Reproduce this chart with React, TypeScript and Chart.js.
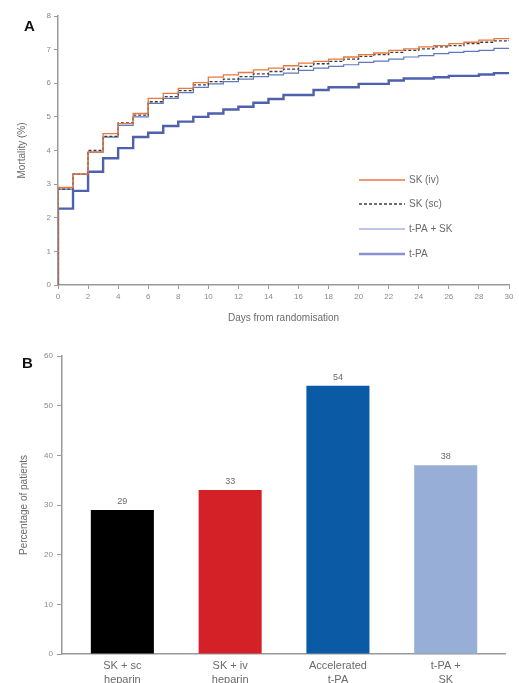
import React, { useEffect, useRef } from "react";
import { Chart, registerables } from "chart.js";

Chart.register(...registerables);

const FONT = "'Liberation Sans', Arial, sans-serif";

// ---- Panel A: cumulative mortality (step curves) ----
const days = [0, 0, 1, 2, 3, 4, 5, 6, 7, 8, 9, 10, 11, 12, 13, 14, 15, 16, 17, 18, 19, 20, 21, 22, 23, 24, 25, 26, 27, 28, 29, 30];

const skIv = [0, 2.9, 3.3, 3.95, 4.5, 4.8, 5.1, 5.55, 5.7, 5.85, 6.02, 6.18, 6.25, 6.32, 6.4, 6.45, 6.52, 6.6, 6.65, 6.72, 6.78, 6.85, 6.9, 6.98, 7.02, 7.08, 7.12, 7.18, 7.22, 7.28, 7.33, 7.35];
const skSc = [0, 2.85, 3.3, 4.0, 4.42, 4.82, 5.05, 5.45, 5.6, 5.78, 5.95, 6.05, 6.12, 6.2, 6.28, 6.35, 6.42, 6.5, 6.58, 6.65, 6.72, 6.8, 6.85, 6.92, 6.98, 7.02, 7.08, 7.12, 7.18, 7.22, 7.26, 7.28];
const tpaSk = [0, 2.85, 3.3, 3.95, 4.4, 4.75, 5.0, 5.4, 5.55, 5.72, 5.88, 5.98, 6.05, 6.12, 6.2, 6.25, 6.3, 6.38, 6.45, 6.5, 6.55, 6.62, 6.66, 6.72, 6.78, 6.82, 6.88, 6.92, 6.95, 6.98, 7.04, 7.05];
const tpa = [0, 2.27, 2.8, 3.37, 3.77, 4.07, 4.4, 4.53, 4.73, 4.86, 5.0, 5.1, 5.22, 5.3, 5.42, 5.53, 5.65, 5.65, 5.8, 5.88, 5.88, 5.98, 5.98, 6.08, 6.14, 6.14, 6.18, 6.22, 6.22, 6.26, 6.3, 6.3];

const seriesLabels = ["SK (iv)", "SK (sc)", "t-PA + SK", "t-PA"];

// ---- Panel B: bar chart ----
const barCategories = [["SK + sc", "heparin"], ["SK + iv", "heparin"], ["Accelerated", "t-PA"], ["t-PA +", "SK"]];
const barValues = [29, 33, 54, 38];
const barColors = ["#000000", "#d42128", "#0a5aa5", "#97aed7"];

const AXIS = "#9a9a9a";
const TICK = "#8a8a8a";

function toPoints(vals: number[]) {
  return days.map((d, i) => ({ x: d, y: vals[i] }));
}

const legendPlugin = {
  id: "insideLegend",
  afterDatasetsDraw(chart: any) {
    const ctx = chart.ctx;
    const ds = chart.data.datasets;
    const ys = [180, 204, 229, 254];
    ctx.save();
    ds.forEach((d: any, i: number) => {
      const y = ys[i];
      ctx.beginPath();
      ctx.strokeStyle = d.legendColor || d.borderColor;
      ctx.lineWidth = d.borderWidth;
      ctx.setLineDash(d.borderDash || []);
      ctx.moveTo(359, y);
      ctx.lineTo(405, y);
      ctx.stroke();
      ctx.setLineDash([]);
      ctx.fillStyle = "#6a6a6a";
      ctx.font = `10px ${FONT}`;
      ctx.textBaseline = "middle";
      ctx.textAlign = "left";
      ctx.fillText(d.label, 409, y);
    });
    ctx.restore();
  },
};

const barLabelPlugin = {
  id: "barLabels",
  afterDatasetsDraw(chart: any) {
    const ctx = chart.ctx;
    const meta = chart.getDatasetMeta(0);
    ctx.save();
    ctx.fillStyle = "#6a6a6a";
    ctx.font = `9px ${FONT}`;
    ctx.textAlign = "center";
    ctx.textBaseline = "bottom";
    meta.data.forEach((el: any, i: number) => {
      ctx.fillText(String(barValues[i]), el.x, el.y - 4);
    });
    ctx.restore();
  },
};

export default function App() {
  const refA = useRef<HTMLCanvasElement>(null);
  const refB = useRef<HTMLCanvasElement>(null);

  useEffect(() => {
    const chartA = new Chart(refA.current!, {
      type: "line",
      data: {
        datasets: [
          { label: seriesLabels[0], data: toPoints(skIv), borderColor: "#e5793f", borderWidth: 1.3, stepped: true, pointRadius: 0 } as any,
          { label: seriesLabels[1], data: toPoints(skSc), borderColor: "#3c3c3c", borderWidth: 1.3, borderDash: [3, 2], stepped: true, pointRadius: 0 } as any,
          { label: seriesLabels[2], data: toPoints(tpaSk), borderColor: "#5f78c0", legendColor: "#7d8fcc", borderWidth: 1.2, stepped: true, pointRadius: 0 } as any,
          { label: seriesLabels[3], data: toPoints(tpa), borderColor: "#4f60ad", legendColor: "#8a90d0", borderWidth: 2.4, stepped: true, pointRadius: 0 } as any,
        ],
      },
      options: {
        responsive: false,
        animation: false,
        layout: { padding: { top: 16, right: 10, left: 0, bottom: 0 } },
        plugins: { legend: { display: false }, tooltip: { enabled: false } },
        scales: {
          x: {
            type: "linear",
            min: 0,
            max: 30,
            afterFit: (s: any) => { s.height = 55; },
            ticks: { stepSize: 2, color: TICK, font: { family: FONT, size: 8 }, padding: 3, maxRotation: 0 },
            grid: { display: true, drawOnChartArea: false, drawTicks: true, tickLength: 4, color: AXIS, lineWidth: 1 },
            border: { display: true, color: AXIS, width: 1.5 },
            title: { display: true, text: "Days from randomisation", color: "#6a6a6a", font: { family: FONT, size: 10 }, padding: { top: 2, bottom: 16 } },
          },
          y: {
            min: 0,
            max: 8,
            afterFit: (s: any) => { s.width = 58; },
            ticks: { stepSize: 1, color: TICK, font: { family: FONT, size: 8 }, padding: 3 },
            grid: { display: true, drawOnChartArea: false, drawTicks: true, tickLength: 4, color: AXIS, lineWidth: 1 },
            border: { display: true, color: AXIS, width: 1.5 },
            title: { display: true, text: "Mortality (%)", color: "#6a6a6a", font: { family: FONT, size: 10 }, padding: { top: 16, bottom: 0 } },
          },
        },
      } as any,
      plugins: [legendPlugin],
    });

    const chartB = new Chart(refB.current!, {
      type: "bar",
      data: {
        labels: barCategories as any,
        datasets: [
          { data: barValues, backgroundColor: barColors, borderWidth: 0, barPercentage: 0.585, categoryPercentage: 1 },
        ],
      },
      options: {
        responsive: false,
        animation: false,
        layout: { padding: { top: 16, right: 14, left: 0, bottom: 0 } },
        plugins: { legend: { display: false }, tooltip: { enabled: false } },
        scales: {
          x: {
            afterFit: (s: any) => { s.height = 29; },
            afterBuildTicks: (s: any) => {
              // wider outer margins than a plain half-category offset
              s._startValue = -0.56;
              s._valueRange = 4.11;
            },
            ticks: { color: "#6a6a6a", font: { family: FONT, size: 11, lineHeight: 1.25 }, padding: 5, maxRotation: 0, autoSkip: false },
            grid: { display: true, drawOnChartArea: false, drawTicks: false, color: AXIS },
            border: { display: true, color: AXIS, width: 1.5 },
          },
          y: {
            min: 0,
            max: 60,
            afterFit: (s: any) => { s.width = 62; },
            ticks: { stepSize: 10, color: TICK, font: { family: FONT, size: 8 }, padding: 4 },
            grid: { display: true, drawOnChartArea: false, drawTicks: true, tickLength: 5, color: AXIS, lineWidth: 1 },
            border: { display: true, color: AXIS, width: 1.5 },
            title: { display: true, text: "Percentage of patients", color: "#6a6a6a", font: { family: FONT, size: 10 }, padding: { top: 18, bottom: 0 } },
          },
        },
      } as any,
      plugins: [barLabelPlugin],
    });

    return () => {
      chartA.destroy();
      chartB.destroy();
    };
  }, []);

  const letter: React.CSSProperties = {
    position: "absolute",
    fontFamily: FONT,
    fontWeight: "bold",
    fontSize: 15,
    color: "#111",
    lineHeight: "15px",
  };

  return (
    <div style={{ position: "absolute", left: 0, top: 0, width: 519, height: 683, overflow: "hidden", background: "#fff" }}>
      <canvas ref={refA} width={519} height={340} style={{ position: "absolute", left: 0, top: 0, width: 519, height: 340 }} />
      <canvas ref={refB} width={519} height={343} style={{ position: "absolute", left: 0, top: 340, width: 519, height: 343 }} />
      <div style={{ ...letter, left: 24, top: 18 }}>A</div>
      <div style={{ ...letter, left: 22, top: 355 }}>B</div>
    </div>
  );
}
